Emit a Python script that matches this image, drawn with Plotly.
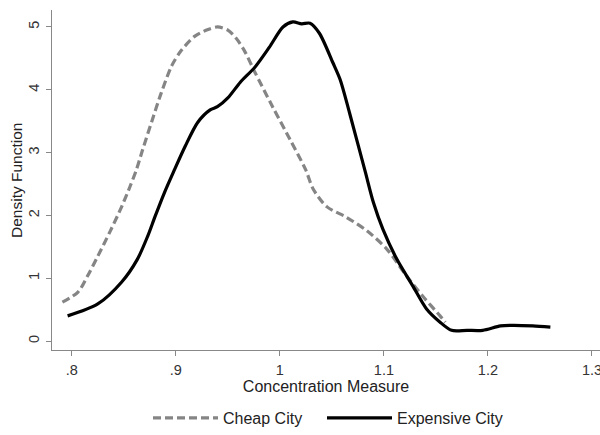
import plotly.graph_objects as go

# Cheap City density (gray dashed)
cheap_x = [0.791, 0.806, 0.815, 0.825, 0.837, 0.848, 0.856, 0.862, 0.868, 0.877, 0.886, 0.896,
           0.905, 0.918, 0.931, 0.940, 0.950, 0.958, 0.966, 0.976, 0.993, 1.010, 1.025, 1.032,
           1.045, 1.064, 1.084, 1.103, 1.122, 1.138, 1.154, 1.159]
cheap_y = [0.62, 0.78, 1.03, 1.35, 1.75, 2.14, 2.46, 2.72, 3.04, 3.50, 3.95, 4.38,
           4.62, 4.85, 4.96, 5.00, 4.95, 4.82, 4.62, 4.28, 3.73, 3.20, 2.72, 2.42,
           2.14, 1.97, 1.75, 1.46, 1.03, 0.70, 0.40, 0.30]

# Expensive City density (black solid)
exp_x = [0.796, 0.825, 0.848, 0.863, 0.873, 0.880, 0.889, 0.898, 0.909, 0.921, 0.933, 0.940,
         0.950, 0.962, 0.976, 0.990, 1.003, 1.0125, 1.021, 1.029, 1.038, 1.051, 1.058, 1.067,
         1.082, 1.090, 1.099, 1.1125, 1.128, 1.141, 1.154, 1.165, 1.180, 1.195, 1.212, 1.224,
         1.243, 1.260]
exp_y = [0.40, 0.59, 0.94, 1.30, 1.67, 1.98, 2.36, 2.70, 3.10, 3.48, 3.68, 3.73,
         3.87, 4.12, 4.36, 4.68, 5.00, 5.08, 5.05, 5.06, 4.90, 4.43, 4.16, 3.63,
         2.70, 2.20, 1.78, 1.30, 0.87, 0.51, 0.30, 0.17, 0.17, 0.17, 0.24, 0.25,
         0.24, 0.22]

x_ticks = [0.8, 0.9, 1.0, 1.1, 1.2, 1.3]
x_labels = [".8", ".9", "1", "1.1", "1.2", "1.3"]
y_ticks = [0, 1, 2, 3, 4, 5]
y_labels = ["0", "1", "2", "3", "4", "5"]

font = "Liberation Sans, Arial, sans-serif"

fig = go.Figure()
fig.add_trace(go.Scatter(x=cheap_x, y=cheap_y, mode="lines", name="Cheap City", legend="legend",
                         line=dict(color="#858585", width=3.2, dash="8px,4px", shape="spline",
                                   smoothing=0.8)))
fig.add_trace(go.Scatter(x=exp_x, y=exp_y, mode="lines", name="Expensive City", legend="legend2",
                         line=dict(color="#000000", width=3.2, shape="spline", smoothing=0.8)))

axis_common = dict(showgrid=False, zeroline=False, showline=True, linecolor="#888888",
                   linewidth=1.3, ticks="outside", ticklen=5, tickcolor="#888888",
                   automargin=False,
                   tickfont=dict(family=font, size=14.5, color="#333333"))

legend_common = dict(orientation="h", xanchor="left", y=-0.2, yanchor="middle",
                     itemwidth=65, bgcolor="rgba(0,0,0,0)",
                     font=dict(family=font, size=16, color="#222222"))

fig.update_layout(
    width=600, height=435,
    margin=dict(l=52, r=0, t=10, b=84),
    paper_bgcolor="white", plot_bgcolor="white",
    font=dict(family=font, color="#222222"),
    xaxis=dict(range=[0.781, 1.3077], tickvals=x_ticks, ticktext=x_labels,
               ticklabeloverflow="allow", ticklabelstandoff=1,
               title=dict(text="Concentration Measure", font=dict(size=16), standoff=0),
               **axis_common),
    yaxis=dict(range=[-0.143, 5.27], tickvals=y_ticks, ticktext=y_labels, tickangle=-90,
               ticklabelstandoff=1, **axis_common),
    legend=dict(x=0.1752, **legend_common),
    legend2=dict(x=0.4927, **legend_common),
    showlegend=True,
    annotations=[dict(text="Density Function", xref="paper", yref="paper",
                      x=-0.0657, y=0.5, xanchor="center", yanchor="middle", textangle=-90,
                      showarrow=False, font=dict(family=font, size=15.5, color="#222222"))],
)

fig.write_html("out.html", config={"displayModeBar": False},
               post_script="document.body.style.margin='0';")
